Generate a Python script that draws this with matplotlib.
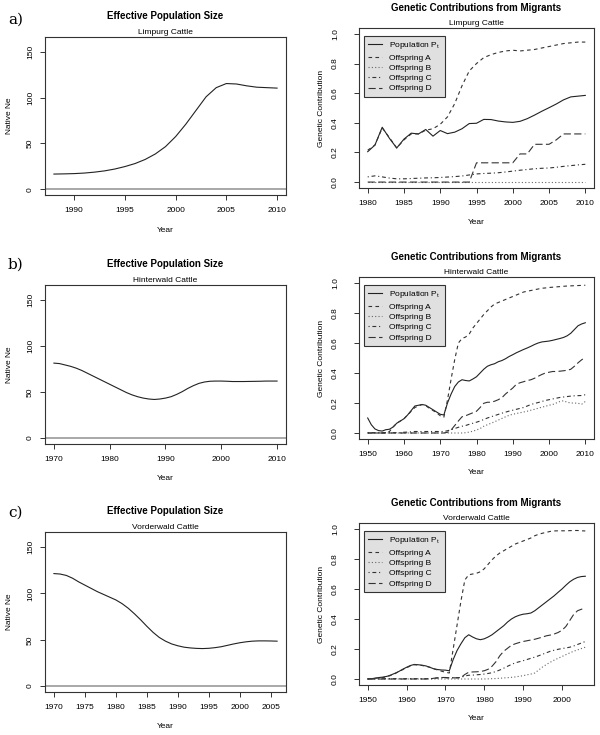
import matplotlib
matplotlib.use('Agg')
import matplotlib.pyplot as plt
from matplotlib.lines import Line2D

plt.rcParams['font.family'] = ['Liberation Sans', 'DejaVu Sans']
plt.rcParams['mathtext.fontset'] = 'custom'
plt.rcParams['mathtext.rm'] = 'Liberation Sans'
plt.rcParams['lines.scale_dashes'] = False

# ---- data ----
breeds = ['Limpurg Cattle', 'Hinterwald Cattle', 'Vorderwald Cattle']
panel_letters = ['a)', 'b)', 'c)']
series_names = ['Population P$_\\mathrm{t}$', 'Offspring A', 'Offspring B', 'Offspring C', 'Offspring D']

# effective population size (native Ne)
ne_years_a = list(range(1988, 2011))
ne_a = [16.5, 16.7, 17.0, 17.6, 18.6, 20.0, 22.0, 24.7, 28.0, 32.5, 38.5, 46.5, 57.5,
        71, 86, 101, 111, 115.5, 115, 113, 111.5, 111, 110.5]
ne_years_b = list(range(1970, 2011))
ne_b = [81.5, 81, 79.5, 78, 76, 73.5, 70.5, 67.5, 64.5, 61.5, 58.5, 55.5, 52.5, 49.5, 47,
        45, 43.5, 42.5, 42, 42.5, 43.5, 45, 47.5, 50.5, 54, 57, 59.5, 61, 61.8, 62, 62,
        61.8, 61.5, 61.5, 61.5, 61.6, 61.7, 61.8, 62, 62, 62]
ne_years_c = list(range(1970, 2007))
ne_c = [121.5, 121, 119.5, 116.5, 112.5, 109, 105.5, 102, 99, 96, 93, 89, 84, 78, 71.5,
        64.5, 58, 52.5, 48.5, 45.5, 43.5, 42, 41.2, 40.7, 40.5, 40.8, 41.5, 42.5, 44, 45.5,
        46.8, 47.8, 48.5, 48.8, 48.8, 48.7, 48.5]

# genetic contributions from migrants
gc_years_a = list(range(1980, 2011))
pop_a = [0.205, 0.25, 0.37, 0.295, 0.23, 0.29, 0.33, 0.325, 0.355, 0.31, 0.348, 0.327, 0.337,
         0.36, 0.395, 0.397, 0.423, 0.422, 0.412, 0.406, 0.403, 0.41, 0.428, 0.452, 0.478,
         0.502, 0.527, 0.555, 0.575, 0.58, 0.585]
offA_a = [0.215, 0.25, 0.365, 0.3, 0.23, 0.285, 0.325, 0.325, 0.35, 0.36, 0.39, 0.44, 0.53,
          0.65, 0.75, 0.8, 0.84, 0.86, 0.875, 0.885, 0.89, 0.885, 0.89, 0.895, 0.905, 0.915,
          0.925, 0.935, 0.94, 0.945, 0.945]
offB_a = [0.0] * 31
offC_a = [0.035, 0.042, 0.035, 0.027, 0.022, 0.022, 0.024, 0.026, 0.028, 0.029, 0.031, 0.034,
          0.037, 0.041, 0.048, 0.055, 0.058, 0.06, 0.063, 0.068, 0.074, 0.08, 0.085, 0.09,
          0.093, 0.095, 0.1, 0.106, 0.111, 0.116, 0.12]
offD_a = [0.0] * 15 + [0.13] * 6 + [0.19, 0.19, 0.255, 0.255, 0.255, 0.285, 0.325, 0.325, 0.325, 0.325]

gc_years_b = list(range(1950, 2011))
pop_b = [0.1, 0.055, 0.027, 0.016, 0.013, 0.022, 0.025, 0.04, 0.065, 0.08, 0.095, 0.12, 0.15,
         0.18, 0.185, 0.19, 0.185, 0.17, 0.155, 0.14, 0.125, 0.12, 0.2, 0.26, 0.31, 0.34,
         0.355, 0.35, 0.347, 0.36, 0.375, 0.4, 0.425, 0.445, 0.455, 0.462, 0.475, 0.483,
         0.495, 0.51, 0.522, 0.535, 0.546, 0.557, 0.567, 0.578, 0.59, 0.6, 0.607, 0.61,
         0.613, 0.618, 0.624, 0.63, 0.637, 0.648, 0.665, 0.69, 0.715, 0.727, 0.735]
offA_b = [0, 0, 0, 0, 0, 0, 0.01, 0.04, 0.065, 0.08, 0.095, 0.12, 0.145, 0.17, 0.18, 0.19,
          0.182, 0.165, 0.15, 0.135, 0.115, 0.105, 0.22, 0.36, 0.49, 0.6, 0.63, 0.64, 0.66,
          0.7, 0.73, 0.76, 0.79, 0.815, 0.84, 0.86, 0.87, 0.88, 0.89, 0.9, 0.91, 0.92, 0.93,
          0.94, 0.945, 0.95, 0.955, 0.96, 0.965, 0.967, 0.97, 0.972, 0.974, 0.976, 0.978,
          0.98, 0.981, 0.982, 0.983, 0.984, 0.985]
offB_b = [0.0] * 27 + [0.002, 0.006, 0.012, 0.02, 0.03, 0.045, 0.055, 0.065, 0.075, 0.086,
                       0.097, 0.108, 0.118, 0.125, 0.13, 0.135, 0.14, 0.145, 0.152, 0.158,
                       0.165, 0.172, 0.178, 0.185, 0.19, 0.2, 0.21, 0.215, 0.205, 0.2, 0.2,
                       0.198, 0.192, 0.21]
offC_b = [0.002] * 10 + [0.005, 0.006, 0.008, 0.01, 0.01, 0.01, 0.01, 0.01, 0.01, 0.01, 0.01,
                         0.01, 0.015, 0.022, 0.03, 0.038, 0.045, 0.05, 0.058, 0.065, 0.072,
                         0.08, 0.09, 0.1, 0.108, 0.116, 0.124, 0.132, 0.139, 0.146, 0.152,
                         0.158, 0.164, 0.17, 0.18, 0.19, 0.197, 0.203, 0.21, 0.217, 0.222,
                         0.227, 0.232, 0.237, 0.24, 0.243, 0.246, 0.248, 0.249, 0.25, 0.255]
offD_b = [0.0] * 22 + [0.005, 0.02, 0.05, 0.08, 0.108, 0.115, 0.125, 0.135, 0.145, 0.17,
                       0.198, 0.205, 0.205, 0.212, 0.222, 0.235, 0.26, 0.28, 0.3, 0.325,
                       0.335, 0.342, 0.35, 0.355, 0.365, 0.378, 0.39, 0.4, 0.405, 0.41, 0.41,
                       0.412, 0.415, 0.418, 0.425, 0.445, 0.468, 0.488, 0.505]

gc_years_c = list(range(1950, 2007))
pop_c = [0, 0.002, 0.006, 0.01, 0.013, 0.018, 0.027, 0.038, 0.05, 0.065, 0.078, 0.09, 0.097,
         0.095, 0.092, 0.087, 0.078, 0.068, 0.063, 0.06, 0.059, 0.055, 0.13, 0.19, 0.235,
         0.275, 0.295, 0.28, 0.268, 0.262, 0.268, 0.28, 0.295, 0.315, 0.335, 0.355, 0.38,
         0.4, 0.415, 0.425, 0.432, 0.435, 0.44, 0.455, 0.475, 0.495, 0.515, 0.535, 0.555,
         0.578, 0.6, 0.625, 0.648, 0.665, 0.677, 0.683, 0.685]
offA_c = [0, 0.002, 0.005, 0.007, 0.01, 0.015, 0.025, 0.035, 0.05, 0.062, 0.075, 0.087, 0.095,
          0.093, 0.09, 0.085, 0.078, 0.068, 0.06, 0.052, 0.045, 0.04, 0.2, 0.36, 0.52, 0.66,
          0.695, 0.7, 0.705, 0.715, 0.735, 0.765, 0.795, 0.82, 0.84, 0.855, 0.87, 0.885,
          0.9, 0.91, 0.92, 0.93, 0.94, 0.955, 0.965, 0.972, 0.978, 0.984, 0.987, 0.988,
          0.988, 0.988, 0.989, 0.99, 0.99, 0.988, 0.987]
offB_c = [0.0] * 31 + [0.001, 0.002, 0.003, 0.005, 0.007, 0.009, 0.011, 0.014, 0.018, 0.022,
                       0.028, 0.033, 0.04, 0.06, 0.08, 0.097, 0.112, 0.126, 0.138, 0.15,
                       0.162, 0.174, 0.185, 0.194, 0.203, 0.212]
offC_c = [0.002] * 17 + [0.005, 0.007, 0.008, 0.008, 0.008, 0.008, 0.008, 0.01, 0.02, 0.025,
                         0.026, 0.028, 0.03, 0.033, 0.037, 0.042, 0.05, 0.06, 0.072, 0.085,
                         0.097, 0.108, 0.115, 0.122, 0.13, 0.138, 0.146, 0.155, 0.165, 0.175,
                         0.185, 0.192, 0.198, 0.203, 0.207, 0.212, 0.22, 0.23, 0.24, 0.25]
offD_c = [0.0] * 17 + [0.005, 0.008, 0.01, 0.01, 0.008, 0.008, 0.008, 0.01, 0.03, 0.045,
                       0.047, 0.048, 0.05, 0.055, 0.065, 0.085, 0.115, 0.155, 0.185, 0.205,
                       0.225, 0.235, 0.243, 0.25, 0.255, 0.26, 0.265, 0.272, 0.28, 0.288,
                       0.293, 0.3, 0.31, 0.325, 0.35, 0.39, 0.43, 0.455, 0.465, 0.472]

ne_xticks = [[1990, 1995, 2000, 2005, 2010], [1970, 1980, 1990, 2000, 2010],
             [1970, 1975, 1980, 1985, 1990, 1995, 2000, 2005]]
gc_xticks = [list(range(1980, 2011, 5)), list(range(1950, 2011, 10)), list(range(1950, 2001, 10))]

# ---- figure ----
fig = plt.figure(figsize=(6, 7.35), dpi=100)
W, H = 600.0, 735.0

def rect(l, t, r, b):
    return [l / W, 1 - b / H, (r - l) / W, (b - t) / H]

left_boxes = [(45, 37, 286, 195), (45, 285, 286, 444), (45, 532, 286, 692)]
right_boxes = [(359, 28, 594, 188), (359, 277, 594, 439), (359, 523, 594, 685)]
letter_y = [20, 265, 513]

styles = [dict(ls='-', color='#222222'),
          dict(ls=(0, (2.6, 2.4)), color='#333333'),
          dict(ls=(0, (0.8, 1.6)), color='#666666'),
          dict(ls=(0, (0.8, 2.0, 2.8, 2.0)), color='#333333'),
          dict(ls=(0, (5.2, 2.4)), color='#333333')]

ne_data = [(ne_years_a, ne_a), (ne_years_b, ne_b), (ne_years_c, ne_c)]
gc_data = [(gc_years_a, [pop_a, offA_a, offB_a, offC_a, offD_a]),
           (gc_years_b, [pop_b, offA_b, offB_b, offC_b, offD_b]),
           (gc_years_c, [pop_c, offA_c, offB_c, offC_c, offD_c])]


def style_axes(ax, ypad, ylab_px, xlab_px, box):
    l, t, r, b = box
    for s in ax.spines.values():
        s.set_color('#333333')
        s.set_linewidth(0.8)
    ax.tick_params(labelsize=6, length=3.5, width=0.7, color='#333333')
    ax.tick_params(axis='x', pad=5)
    ax.tick_params(axis='y', pad=ypad)
    for lab in ax.get_yticklabels():
        lab.set_rotation(90)
        lab.set_va('center')
    ax.yaxis.set_label_coords(-ylab_px / (r - l), 0.5)
    ax.xaxis.set_label_coords(0.5, -xlab_px / (b - t))
    ax.yaxis.label.set_va('center')
    ax.xaxis.label.set_va('center')


for i in range(3):
    # effective population size
    box = left_boxes[i]
    ax = fig.add_axes(rect(*box))
    yrs, ne = ne_data[i]
    ax.axhline(0, color='#999999', lw=1.2)
    ax.plot(yrs, ne, color='#222222', lw=0.8)
    span = yrs[-1] - yrs[0]
    ax.set_xlim(yrs[0] - 0.04 * span, yrs[-1] + 0.04 * span)
    ax.set_ylim(-6.4, 166.4)
    ax.set_xticks(ne_xticks[i])
    ax.set_yticks([0, 50, 100, 150])
    ax.set_xlabel('Year', fontsize=6)
    ax.set_ylabel('Native Ne', fontsize=6)
    ax.set_title(breeds[i], fontsize=6, pad=2)
    style_axes(ax, 4.5, 35, 35, box)
    l, t, r, b = box
    fig.text(((l + r) / 2) / W, 1 - (t - 21) / H, 'Effective Population Size',
             fontsize=7, fontweight='bold', ha='center', va='center')
    fig.text(8 / W, 1 - letter_y[i] / H, panel_letters[i], family='DejaVu Serif',
             fontsize=11, ha='left', va='center')

    # genetic contributions
    box = right_boxes[i]
    ax = fig.add_axes(rect(*box))
    yrs, series = gc_data[i]
    for vals, st in zip(series, styles):
        ax.plot(yrs, vals, lw=0.8, **st)
    span = yrs[-1] - yrs[0]
    ax.set_xlim(yrs[0] - 0.04 * span, yrs[-1] + 0.04 * span)
    ax.set_ylim(-0.04, 1.04)
    ax.set_xticks(gc_xticks[i])
    ax.set_yticks([0, 0.2, 0.4, 0.6, 0.8, 1.0])
    ax.set_yticklabels(['0.0', '0.2', '0.4', '0.6', '0.8', '1.0'])
    ax.set_xlabel('Year', fontsize=6)
    ax.set_ylabel('Genetic Contribution', fontsize=6)
    ax.set_title(breeds[i], fontsize=6, pad=2)
    style_axes(ax, 11, 38, 34, box)
    handles = [Line2D([], [], lw=0.8, **st) for st in styles]
    leg = ax.legend(handles, series_names, loc='upper left', bbox_to_anchor=(0.021, 0.95),
                    borderaxespad=0, fontsize=6, frameon=True, fancybox=False,
                    facecolor='#e0e0e0', edgecolor='#333333', framealpha=1,
                    handlelength=1.7, labelspacing=0.3, borderpad=0.5, handletextpad=0.85)
    leg.get_frame().set_linewidth(0.8)
    l, t, r, b = box
    fig.text(((l + r) / 2) / W, 1 - (t - 20) / H, 'Genetic Contributions from Migrants',
             fontsize=7, fontweight='bold', ha='center', va='center')

fig.savefig('out.png', dpi=100)
